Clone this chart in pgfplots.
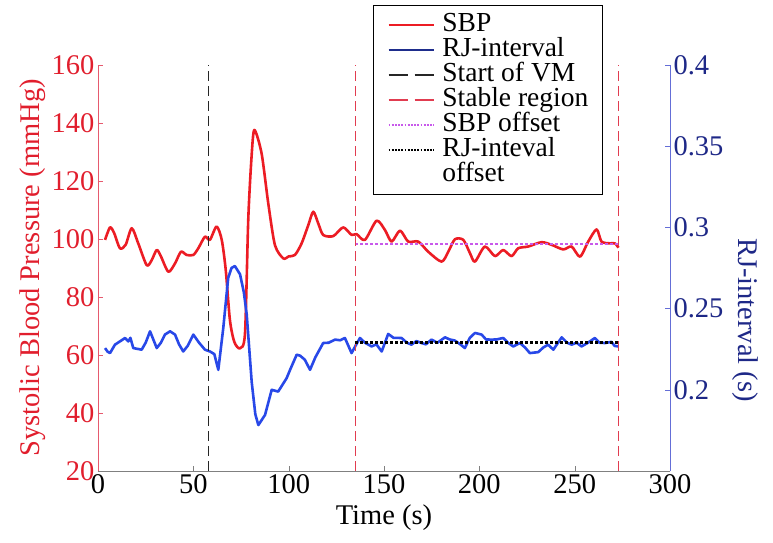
\documentclass[border=0pt]{standalone}
\usepackage{pgfplots}
\pgfplotsset{compat=1.18}
\usepackage{fontspec}
\setmainfont{Liberation Serif}
\definecolor{sbpred}{RGB}{236,28,36}
\definecolor{rjblue}{RGB}{40,72,232}
\definecolor{rjnavy}{RGB}{30,45,140}
\definecolor{leftax}{RGB}{230,90,110}
\definecolor{leftlab}{RGB}{225,30,45}
\definecolor{rightax}{RGB}{100,110,215}
\definecolor{rightlab}{RGB}{30,40,135}
\definecolor{stablec}{RGB}{225,60,80}
\definecolor{offmag}{RGB}{200,90,235}
\begin{document}
\begin{tikzpicture}
\useasboundingbox (-98bp,-72bp) rectangle (675bp,471bp);
\pgfplotsset{
  base/.style={
    at={(0,0)}, anchor=south west, scale only axis, width=572bp, height=406bp,
    xmin=0, xmax=300, tick align=inside, major tick length=5bp,
    ticklabel style={font=\fontsize{28.5bp}{30bp}\selectfont},
    label style={font=\fontsize{28.5bp}{30bp}\selectfont},
    /pgf/number format/assume math mode=true,
  },
  sbpstyle/.style={color=sbpred, line width=2.6bp, line join=round},
  rjstyle/.style={color=rjblue, line width=2.6bp, line join=round},
  vmstyle/.style={color=black!85, line width=1.4bp, dash pattern=on 10bp off 5bp},
  stablestyle/.style={color=stablec, line width=1.4bp, dash pattern=on 10bp off 5bp},
  sbpoffstyle/.style={color=offmag, line width=2.4bp, dash pattern=on 2.4bp off 2.6bp},
  rjoffstyle/.style={color=black, line width=2.4bp, dash pattern=on 2.4bp off 2.6bp},
}
\begin{axis}[base,
  axis y line*=left, axis x line*=bottom,
  ymin=20, ymax=160, ytick={20,40,...,160},
  xtick={0,50,...,300},
  y axis line style={color=leftax, line width=0.8bp}, ytick style={color=leftax},
  yticklabel style={color=leftlab},
  x axis line style={color=gray, line width=0.8bp}, xtick style={color=gray},
  xticklabel style={color=black},
  ylabel={Systolic Blood Pressure (mmHg)},
  ylabel style={color=leftlab, at={(axis description cs:-0.114,0.5)}, anchor=center},
  xlabel={Time (s)},
  xlabel style={at={(axis description cs:0.5,-0.115)}, anchor=center},
]
\addplot[sbpstyle, smooth, tension=0.45] coordinates {
(3.7,99.7) (6.3,104) (8.5,102) (11.5,96.8) (14.5,98) (17.7,103.7) (21.1,98.5) (25.5,91) (28,92.5) (30.8,96.2) (33,94) (36.9,88.7) (40.4,91.6) (43.5,95.6) (46.5,94.5) (50,94.5) (52.6,96.8) (56.1,100.8) (58.7,99.7) (62.2,104.3) (64.9,99.7) (67,89.3) (69.2,72) (71.5,64.5) (74.5,62.3) (77.1,67.5) (78.8,106.6) (80.5,128) (82,137.6) (85.8,129.5) (89.3,112.3) (92.8,97.9) (97.2,93.3) (100,94) (103.3,94.5) (106.8,98.5) (110.3,104.8) (112.9,109.4) (115.5,105.4) (118.1,101.4) (123.4,101) (128.6,104) (133,101.4) (135.6,101.7) (140,99.7) (146.1,106.3) (150.5,103.1) (154,99.1) (158.4,102.9) (162.7,99.1) (168,99.1) (173.2,95.6) (180.2,92.2) (183.7,95.6) (187.2,99.9) (191.6,99.7) (195.1,95.1) (197.7,92.2) (202.9,97.4) (208.2,94.1) (212.5,96.2) (216.9,94.1) (220.4,96.8) (225.6,97.4) (232.6,98.9) (237.9,98) (244,96.4) (248.4,97.4) (252.8,93.9) (257.1,99.1) (261.5,103.3) (264.1,99.1) (268.5,98.5) (271.1,98.5) (273,97)
};
\addplot[sbpoffstyle] coordinates {(135,98.2) (273,98.2)};
\end{axis}
\begin{axis}[base,
  axis y line*=right, axis x line=none,
  ymin=0.15, ymax=0.4, ytick={0.2,0.25,0.3,0.35,0.4},
  yticklabel style={color=rightlab, /pgf/number format/fixed, /pgf/number format/precision=2},
  y axis line style={color=rightax, line width=0.8bp}, ytick style={color=rightax},
  ylabel={RJ-interval (s)},
  ylabel style={color=rightlab, at={(axis description cs:1.131,0.372)}, anchor=center, rotate=180},
  legend image code/.code={\draw[#1] (0bp,0bp) -- (45bp,0bp);},
  legend style={at={(axis description cs:0.4808,1.1478)}, anchor=north west,
    draw=black, line width=1.2bp, fill=white,
    font=\fontsize{27.5bp}{25bp}\selectfont,
    inner xsep=14bp, inner ysep=7bp, row sep=0pt,
    nodes={inner sep=0bp, text height=19bp, text depth=6bp},
    /tikz/every odd column/.append style={column sep=8bp}},
  legend cell align=left,
]
\addplot[rjstyle, forget plot] coordinates {
(3.7,0.2257) (5,0.2235) (6.3,0.2226) (8.9,0.2278) (11.5,0.2298) (14.2,0.2319) (15.9,0.2298) (17,0.232) (18.5,0.2257) (22.9,0.2247) (25,0.229) (27.3,0.236) (30.8,0.2257) (33,0.229) (35.1,0.234) (37.8,0.236) (40.4,0.234) (42.5,0.228) (44.7,0.2236) (47,0.227) (50,0.234) (53,0.229) (56.1,0.2247) (58.7,0.2236) (61,0.222) (63.1,0.2123) (65.7,0.238) (68.3,0.269) (70,0.275) (71.8,0.2762) (74.5,0.2711) (76.5,0.26) (78,0.2464) (80.6,0.205) (82.5,0.185) (84.1,0.1783) (87.6,0.1845) (91.1,0.2) (94.5,0.1989) (98.9,0.2071) (101,0.213) (104.2,0.2216) (106,0.221) (108.5,0.2185) (111.2,0.2123) (114,0.22) (118.1,0.2288) (121,0.229) (124.3,0.2309) (127,0.2305) (129.5,0.2319) (133,0.2226) (135,0.227) (137.4,0.2319) (140,0.229) (143.5,0.2267) (146,0.228) (148.8,0.2236) (152.2,0.2344) (155,0.232) (159.2,0.2319) (162,0.229) (164.4,0.2278) (167,0.23) (169.7,0.2288) (172,0.228) (174.9,0.2309) (178,0.229) (182,0.2323) (184.5,0.231) (187.2,0.2303) (190,0.228) (192.4,0.2257) (195,0.232) (197.7,0.235) (201.2,0.234) (203.5,0.231) (206.4,0.2309) (209,0.231) (212.5,0.2319) (215,0.229) (217.8,0.2267) (221.3,0.2288) (224,0.226) (226.5,0.2226) (230.9,0.2232) (233.5,0.226) (236.1,0.2278) (238.8,0.2247) (243.2,0.2323) (246,0.229) (248.4,0.2278) (251,0.229) (253.6,0.2267) (257,0.229) (260.6,0.2319) (263,0.229) (265.9,0.2288) (269.3,0.2295) (271,0.227) (273,0.2267)
};
\addplot[vmstyle, forget plot] coordinates {(58,0.15) (58,0.4)};
\addplot[stablestyle, forget plot] coordinates {(135,0.15) (135,0.4)};
\addplot[stablestyle, forget plot] coordinates {(273,0.15) (273,0.4)};
\addplot[rjoffstyle, forget plot] coordinates {(135,0.2292) (273,0.2292)};
\addlegendimage{color=sbpred, line width=1.8bp}
\addlegendentry{SBP}
\addlegendimage{color=rjnavy, line width=1.8bp}
\addlegendentry{RJ-interval}
\addlegendimage{color=black!85, line width=1.8bp, dash pattern=on 19bp off 7bp}
\addlegendentry{Start of VM}
\addlegendimage{color=stablec, line width=1.8bp, dash pattern=on 19bp off 7bp}
\addlegendentry{Stable region}
\addlegendimage{color=offmag, line width=1.6bp, dash pattern=on 1.8bp off 1.4bp}
\addlegendentry{SBP offset}
\addlegendimage{color=black, line width=1.6bp, dash pattern=on 1.8bp off 1.4bp}
\addlegendentry{RJ-inteval}
\addlegendimage{empty legend}
\addlegendentry{offset}
\end{axis}
\end{tikzpicture}
\end{document}
